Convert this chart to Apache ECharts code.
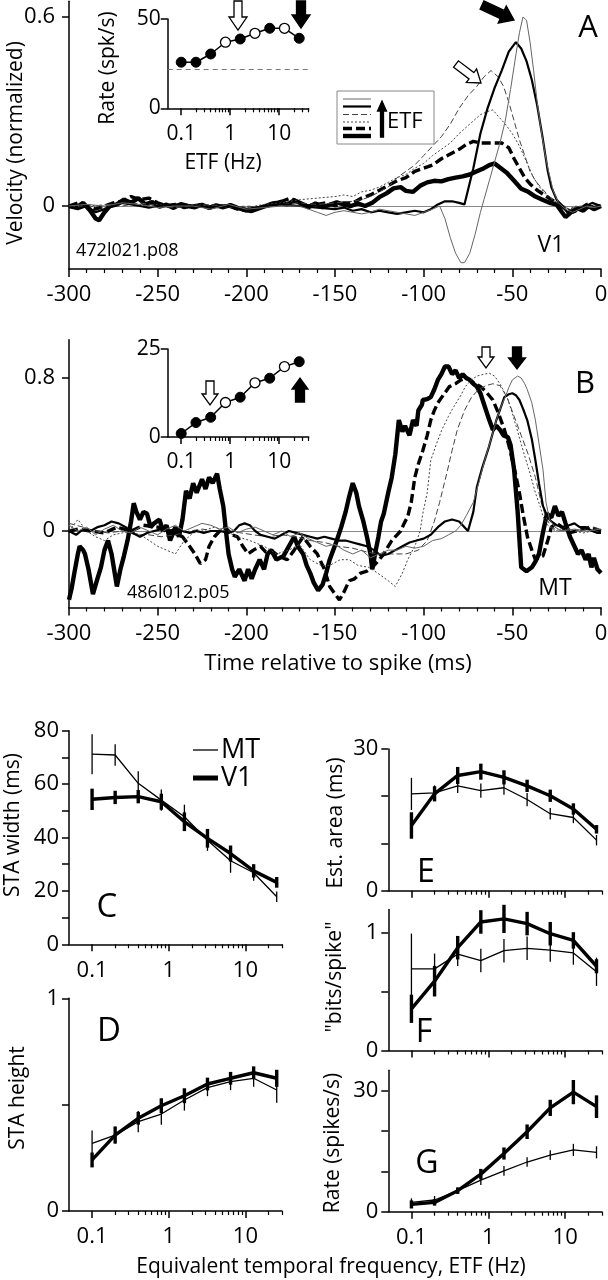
<!DOCTYPE html>
<html><head><meta charset="utf-8">
<script src="https://cdn.jsdelivr.net/npm/echarts@6/dist/echarts.min.js"></script>
<style>html,body{margin:0;padding:0;background:#fff}#c{width:608px;height:1280px}</style>
</head><body><div id="c"></div>
<script>
// ---------------- DATA ----------------
const ETF = [0.1, 0.2, 0.4, 0.8, 1.6, 3.2, 6.4, 12.8, 25.6];
const traceETF = [0.1, 0.2, 0.4, 1.6, 6.4, 25.6];
const timeTicks = [-300, -250, -200, -150, -100, -50, 0];
const decadeTicks = [0.1, 1, 10];
const minorLogTicks = [0.2,0.3,0.4,0.5,0.6,0.7,0.8,0.9,2,3,4,5,6,7,8,9,20,30,40];

// inset rates
const insetRateA = [25.8, 25.8, 30.4, 37.0, 38.8, 42.0, 44.8, 44.8, 39.2];
const insetBaseA = 21.8;
const insetRateB = [1.0, 4.1, 5.6, 9.8, 11.3, 15.4, 16.7, 20.0, 21.4];

// Panel A traces [time ms, normalized velocity]
const A_0p1 = [[-300,0],[-296,-0.005],[-292,0.01],[-288,-0.015],[-285,-0.04],[-283,-0.045],[-280,-0.02],[-277,0.0],[-273,0.005],[-269,0.02],[-265,0.01],[-261,0.025],[-257,0.005],[-253,0.012],[-249,-0.002],[-245,0.004],[-241,-0.006],[-237,0.006],[-233,0.0],[-229,-0.004],[-225,0.004],[-221,-0.006],[-217,0.002],[-213,-0.004],[-209,0.003],[-205,-0.006],[-201,-0.012],[-197,-0.016],[-193,-0.008],[-189,0.0],[-185,0.006],[-181,0.012],[-177,0.004],[-173,0.018],[-169,0.008],[-165,-0.004],[-161,0.008],[-157,-0.004],[-153,0.004],[-149,0.012],[-145,0.004],[-141,0.0],[-137,0.008],[-133,0.0],[-129,0.01],[-125,0.028],[-121,0.04],[-117,0.056],[-113,0.06],[-110,0.048],[-106,0.045],[-102,0.064],[-98,0.075],[-94,0.08],[-90,0.078],[-86,0.085],[-82,0.09],[-78,0.094],[-74,0.1],[-70,0.11],[-66,0.12],[-63,0.13],[-60,0.135],[-57,0.122],[-53,0.105],[-49,0.08],[-45,0.055],[-41,0.045],[-37,0.03],[-33,0.02],[-29,0.01],[-25,0.004],[-22,-0.02],[-20,-0.035],[-17,-0.02],[-13,-0.008],[-10,-0.015],[-7,0.0],[-4,-0.01],[0,0.0]];
const A_0p2 = [[-300,0.0],[-295,0.01],[-290,0.0],[-285,-0.01],[-280,0.0],[-275,0.01],[-270,0.015],[-265,0.03],[-260,0.02],[-255,0.025],[-250,0.01],[-245,0.0],[-240,0.005],[-235,-0.005],[-230,0.0],[-225,0.005],[-220,-0.005],[-215,0.0],[-210,0.0],[-205,-0.01],[-200,-0.015],[-195,-0.01],[-190,0.0],[-185,0.01],[-180,0.015],[-175,0.025],[-170,0.01],[-165,0.0],[-160,0.005],[-155,0.01],[-150,0.0],[-145,0.01],[-140,0.01],[-135,0.025],[-130,0.035],[-125,0.05],[-120,0.065],[-115,0.08],[-110,0.09],[-105,0.11],[-100,0.12],[-95,0.13],[-90,0.15],[-85,0.165],[-80,0.18],[-76,0.195],[-72,0.205],[-68,0.2],[-64,0.2],[-60,0.2],[-56,0.2],[-52,0.185],[-49,0.15],[-46,0.12],[-43,0.09],[-40,0.07],[-36,0.05],[-32,0.035],[-28,0.02],[-24,0.01],[-20,-0.01],[-16,-0.02],[-12,-0.01],[-8,0.005],[-4,-0.005],[0,0.0]];
const A_0p4 = [[-300,0.0],[-290,0.005],[-280,-0.005],[-270,0.01],[-260,0.0],[-250,0.005],[-240,0.0],[-230,0.005],[-220,0.0],[-210,0.0],[-200,-0.005],[-190,0.005],[-180,0.01],[-170,0.02],[-160,0.025],[-150,0.03],[-145,0.035],[-140,0.03],[-135,0.045],[-130,0.05],[-125,0.06],[-120,0.075],[-115,0.09],[-110,0.1],[-105,0.12],[-100,0.135],[-95,0.16],[-90,0.18],[-85,0.2],[-80,0.23],[-76,0.25],[-72,0.27],[-68,0.29],[-64,0.3],[-61,0.305],[-58,0.285],[-54,0.26],[-50,0.23],[-46,0.19],[-42,0.14],[-38,0.09],[-34,0.055],[-30,0.03],[-26,0.015],[-22,0.005],[-18,-0.01],[-14,0.0],[-10,-0.005],[-5,0.0],[0,0.0]];
const A_1p6 = [[-300,0.0],[-290,-0.005],[-280,0.005],[-270,0.0],[-260,0.01],[-250,0.0],[-240,-0.005],[-230,0.0],[-220,0.005],[-210,-0.005],[-200,0.0],[-190,-0.005],[-180,0.005],[-170,0.01],[-160,0.005],[-150,0.01],[-140,0.015],[-135,0.02],[-130,0.03],[-125,0.045],[-120,0.06],[-115,0.09],[-110,0.11],[-105,0.13],[-100,0.16],[-95,0.19],[-90,0.22],[-85,0.26],[-80,0.31],[-75,0.35],[-70,0.38],[-66,0.41],[-62,0.43],[-58,0.41],[-55,0.38],[-52,0.33],[-49,0.27],[-46,0.21],[-43,0.16],[-40,0.11],[-37,0.08],[-34,0.06],[-30,0.035],[-26,0.015],[-22,0.0],[-18,-0.01],[-12,0.0],[-6,-0.005],[0,0.0]];
const A_6p4 = [[-300,0.0],[-295,-0.01],[-290,0.0],[-285,-0.02],[-280,-0.01],[-275,0.0],[-270,0.01],[-265,0.005],[-260,0.0],[-255,-0.005],[-250,0.0],[-240,0.005],[-230,0.0],[-220,-0.005],[-210,0.0],[-200,-0.01],[-190,0.0],[-180,0.005],[-170,0.0],[-160,-0.005],[-150,-0.01],[-145,-0.005],[-140,-0.015],[-135,-0.01],[-130,-0.02],[-125,-0.015],[-120,-0.02],[-115,-0.025],[-110,-0.02],[-105,-0.015],[-100,-0.02],[-96,-0.01],[-92,0.005],[-88,0.015],[-84,0.015],[-80,0.01],[-77,0.005],[-76,0.0],[-72,0.12],[-68,0.23],[-64,0.31],[-60,0.375],[-56,0.43],[-52,0.49],[-48,0.52],[-45,0.5],[-42,0.46],[-39,0.4],[-36,0.32],[-33,0.22],[-30,0.11],[-28,0.06],[-25,0.02],[-22,0.0],[-19,-0.02],[-15,-0.01],[-10,-0.005],[-5,0.01],[0,0.0]];
const A_25p6 = [[-300,0.0],[-290,0.005],[-280,0.0],[-270,0.01],[-260,0.005],[-250,-0.005],[-240,0.0],[-230,0.0],[-220,-0.01],[-210,0.005],[-200,-0.01],[-190,-0.005],[-180,0.0],[-170,0.0],[-165,-0.01],[-160,-0.02],[-155,-0.03],[-150,-0.02],[-145,-0.015],[-140,-0.02],[-135,-0.025],[-130,-0.02],[-125,-0.01],[-120,-0.015],[-115,-0.02],[-110,-0.025],[-105,-0.03],[-100,-0.02],[-95,-0.01],[-91,0.0],[-88,-0.04],[-85,-0.1],[-82,-0.15],[-79,-0.18],[-77,-0.18],[-74,-0.15],[-71,-0.09],[-68,-0.02],[-66,0.02],[-63,0.08],[-60,0.14],[-57,0.2],[-54,0.27],[-51,0.37],[-48,0.48],[-46,0.55],[-44,0.6],[-42,0.59],[-40,0.52],[-38,0.43],[-36,0.33],[-34,0.25],[-32,0.18],[-30,0.12],[-27,0.05],[-24,0.01],[-20,-0.01],[-16,-0.02],[-12,-0.01],[-8,0.0],[-4,-0.005],[0,0.0]];

// Panel B traces
const B_0p1 = [[-300,-0.36],[-298.5,-0.3],[-297,-0.22],[-295,-0.12],[-294,-0.08],[-292,-0.1],[-291,-0.12],[-289,-0.2],[-286.5,-0.33],[-284,-0.25],[-282,-0.19],[-280,-0.1],[-278,-0.05],[-276,-0.12],[-273,-0.29],[-271,-0.2],[-269,-0.13],[-267,-0.05],[-265,0.05],[-263.5,0.145],[-262,0.1],[-260,0.06],[-258,0.1],[-256,0.09],[-254,0.02],[-252,0.04],[-249,0.06],[-247,0.0],[-245,0.03],[-243,-0.05],[-240,0.02],[-238,-0.03],[-236,0.06],[-234,0.21],[-232,0.17],[-230,0.25],[-228,0.2],[-225,0.27],[-223,0.22],[-221,0.28],[-219,0.25],[-216.5,0.3],[-215,0.22],[-213,0.13],[-211.5,0.0],[-210,-0.12],[-208,-0.2],[-206.5,-0.24],[-204,-0.2],[-201,-0.26],[-199,-0.2],[-197,-0.25],[-195,-0.2],[-192.5,-0.15],[-190,-0.2],[-188,-0.12],[-186,-0.1],[-183,-0.15],[-179,-0.13],[-176,-0.08],[-173,-0.03],[-171,-0.08],[-168,-0.12],[-166,-0.18],[-164,-0.22],[-162,-0.27],[-159.5,-0.31],[-157,-0.28],[-155,-0.22],[-153,-0.15],[-151,-0.1],[-149,-0.05],[-146.5,0.02],[-144,0.1],[-142,0.18],[-140,0.25],[-138,0.2],[-136.5,0.13],[-134,0.05],[-132,-0.03],[-130,-0.12],[-129,-0.2],[-127,-0.1],[-125.5,-0.03],[-124,0.05],[-122.5,0.09],[-120,0.2],[-118,0.28],[-116,0.4],[-114,0.58],[-112,0.52],[-110.5,0.55],[-108,0.5],[-106,0.58],[-104,0.55],[-103,0.63],[-101,0.66],[-100.5,0.685],[-98,0.69],[-96,0.7],[-94,0.74],[-92,0.79],[-90,0.82],[-88,0.86],[-86,0.86],[-84,0.82],[-82,0.84],[-80,0.8],[-78,0.82],[-76,0.8],[-74,0.79],[-72,0.77],[-70,0.755],[-68,0.72],[-65.5,0.65],[-63,0.58],[-61,0.53],[-59,0.55],[-57,0.53],[-55,0.5],[-52.5,0.49],[-51,0.45],[-49,0.32],[-47,0.1],[-45,-0.19],[-42,-0.21],[-39,-0.19],[-37,-0.16],[-35,-0.12],[-33,-0.02],[-30.5,0.09],[-28,0.07],[-26,0.13],[-24,0.08],[-22,0.1],[-20,0.04],[-17.5,-0.03],[-15,-0.08],[-13,-0.12],[-11,-0.1],[-8.7,-0.15],[-7,-0.12],[-5.4,-0.19],[-4,-0.14],[-2,-0.2],[0,-0.22]];
const B_0p2 = [[-300,0.0],[-295,0.01],[-288,0.0],[-280,-0.01],[-273,0.02],[-265,0.0],[-258,0.03],[-250,0.02],[-243,0.0],[-236,-0.03],[-232,-0.08],[-229,-0.12],[-226,-0.17],[-223,-0.15],[-221,-0.08],[-218,-0.03],[-215,0.0],[-212,0.02],[-208,-0.02],[-205,-0.03],[-202,-0.08],[-199,-0.12],[-196,-0.1],[-192,-0.08],[-189,-0.11],[-186,-0.1],[-182,-0.13],[-177,-0.15],[-173,-0.1],[-168,-0.03],[-164,-0.08],[-160,-0.12],[-156,-0.2],[-153,-0.29],[-150,-0.33],[-147.5,-0.36],[-145,-0.32],[-142,-0.26],[-139,-0.25],[-135.5,-0.22],[-132,-0.21],[-129,-0.19],[-125,-0.15],[-122.5,-0.12],[-120,-0.08],[-118,-0.05],[-115,-0.02],[-113,0.0],[-111,0.04],[-109,0.075],[-107,0.15],[-105,0.28],[-103,0.35],[-100.5,0.42],[-98,0.5],[-96,0.58],[-94,0.63],[-92,0.67],[-89,0.71],[-85.5,0.755],[-82,0.77],[-79,0.79],[-76,0.8],[-74,0.79],[-71,0.77],[-68,0.755],[-65,0.73],[-61,0.685],[-58,0.62],[-54.5,0.53],[-52,0.45],[-50,0.37],[-48,0.29],[-46,0.2],[-44,0.09],[-41.5,-0.03],[-39,-0.1],[-37,-0.15],[-35,-0.14],[-32.7,-0.13],[-30,-0.05],[-28,0.02],[-25,0.04],[-22,0.02],[-18,-0.01],[-14,0.0],[-10,0.01],[-6,0.02],[-3,0.01],[0,0.0]];
const B_0p4 = [[-300,0.0],[-295,0.06],[-290,0.0],[-285,-0.03],[-280,-0.05],[-275,-0.02],[-270,-0.01],[-265,0.0],[-258,-0.03],[-250,-0.08],[-245,-0.1],[-240,-0.12],[-235,-0.05],[-230,-0.01],[-225,0.0],[-218,0.02],[-212,0.0],[-205,-0.03],[-198,-0.05],[-190,-0.08],[-183,-0.12],[-176,-0.1],[-170,-0.07],[-164,-0.15],[-158,-0.18],[-153,-0.18],[-147,-0.15],[-142,-0.15],[-137,-0.18],[-131,-0.19],[-126,-0.22],[-120,-0.26],[-116,-0.29],[-112,-0.22],[-109,-0.15],[-105,-0.08],[-102,0.0],[-100.5,0.09],[-98,0.2],[-96,0.37],[-93,0.45],[-89.7,0.53],[-86,0.6],[-83,0.65],[-79,0.71],[-76.5,0.755],[-73,0.79],[-70,0.81],[-66,0.82],[-63,0.825],[-60,0.81],[-57,0.77],[-53,0.7],[-50,0.615],[-47,0.52],[-43.6,0.41],[-40,0.3],[-37,0.2],[-34,0.12],[-32.7,0.075],[-30,0.03],[-26,0.0],[-20,0.02],[-15,0.0],[-10,-0.01],[-5,0.0],[0,-0.01]];
const B_1p6 = [[-300,0.04],[-292,0.02],[-285,0.0],[-278,-0.01],[-270,0.0],[-262,-0.02],[-255,-0.02],[-248,-0.03],[-240,-0.02],[-232,0.0],[-225,0.01],[-218,0.0],[-210,0.0],[-203,-0.01],[-196,-0.02],[-188,-0.03],[-180,-0.02],[-172,-0.03],[-164,-0.05],[-156,-0.06],[-148,-0.08],[-140,-0.09],[-132,-0.11],[-125,-0.12],[-118,-0.12],[-110,-0.12],[-103,-0.1],[-98,-0.05],[-94,0.05],[-91,0.15],[-87,0.3],[-84,0.42],[-81,0.53],[-77,0.63],[-73,0.7],[-69,0.74],[-65,0.76],[-61,0.77],[-57,0.76],[-53,0.7],[-49,0.6],[-45,0.5],[-41,0.4],[-37,0.28],[-34,0.16],[-31,0.07],[-28,0.02],[-24,0.0],[-18,0.01],[-12,0.0],[-6,0.02],[0,0.01]];
const B_6p4 = [[-300,0.0],[-296,-0.02],[-292,0.01],[-288,0.0],[-284,0.02],[-280,0.03],[-276,0.05],[-272,0.04],[-268,0.02],[-264,-0.01],[-260,-0.03],[-256,-0.01],[-252,0.0],[-248,0.01],[-244,0.0],[-240,0.01],[-236,0.0],[-232,-0.01],[-228,0.0],[-224,-0.01],[-220,0.0],[-215,0.0],[-210,-0.01],[-207,0.0],[-204,0.03],[-201,0.04],[-198,0.03],[-195,0.0],[-192,-0.02],[-188,-0.03],[-184,-0.04],[-180,-0.02],[-176,0.0],[-172,-0.01],[-168,-0.02],[-164,-0.03],[-160,-0.04],[-156,-0.03],[-152,-0.04],[-148,-0.05],[-144,-0.05],[-140,-0.06],[-136,-0.07],[-132,-0.08],[-128,-0.1],[-124,-0.13],[-120,-0.12],[-116,-0.1],[-112,-0.08],[-108,-0.06],[-104,-0.05],[-100,-0.04],[-96,-0.02],[-92,0.02],[-88,0.05],[-84,0.06],[-80,0.05],[-77,0.02],[-75,0.0],[-72,0.1],[-70,0.23],[-67,0.33],[-63.2,0.44],[-59,0.58],[-56,0.66],[-54.5,0.7],[-52,0.715],[-50,0.72],[-48,0.71],[-46,0.685],[-44,0.64],[-41.6,0.58],[-39,0.48],[-37,0.37],[-35,0.25],[-32.7,0.13],[-30,0.07],[-28,0.05],[-25,0.03],[-21.8,0.02],[-18,0.03],[-15,0.04],[-12,0.02],[-8.7,0.02],[-5,0.0],[-2,-0.01],[0,-0.01]];
const B_25p6 = [[-300,0.03],[-295,0.0],[-290,0.02],[-285,-0.02],[-280,0.01],[-275,0.03],[-270,0.0],[-265,-0.01],[-260,0.02],[-255,0.0],[-250,-0.02],[-245,0.01],[-240,0.03],[-235,0.0],[-230,0.02],[-225,0.04],[-220,0.03],[-215,0.01],[-210,0.02],[-205,-0.01],[-200,0.01],[-195,0.02],[-190,0.0],[-185,-0.02],[-180,0.0],[-175,-0.03],[-170,-0.01],[-165,-0.04],[-160,-0.06],[-155,-0.08],[-150,-0.07],[-145,-0.1],[-140,-0.12],[-135,-0.1],[-130,-0.14],[-125,-0.12],[-120,-0.1],[-115,-0.1],[-110,-0.08],[-105,-0.09],[-100,-0.08],[-95,-0.05],[-90,-0.04],[-86,-0.02],[-82,0.0],[-79,0.03],[-76,0.08],[-72,0.15],[-69,0.25],[-65.6,0.37],[-62,0.48],[-59,0.58],[-56,0.66],[-54,0.7],[-52,0.75],[-50,0.79],[-47,0.81],[-45,0.8],[-43,0.77],[-41.6,0.74],[-39,0.67],[-37,0.58],[-35,0.46],[-32.7,0.32],[-31,0.15],[-29,0.06],[-26,0.02],[-22,0.0],[-15,0.01],[-8,0.0],[0,0.01]];

// Bottom panels (mean, error half-width)
const widthMT = [71.2, 70.9, 60.3, 54.0, 47.8, 39.0, 31.3, 26.8, 17.8];
const widthMTerr = [7.5, 4.0, 4.5, 4.0, 4.5, 4.0, 4.5, 3.0, 2.0];
const widthV1 = [54.3, 55.0, 55.3, 53.4, 45.9, 39.7, 34.0, 27.5, 23.2];
const widthV1err = [4.0, 2.5, 2.5, 3.0, 3.5, 3.5, 3.0, 2.5, 2.0];
const heightMT = [0.318, 0.357, 0.42, 0.456, 0.522, 0.58, 0.608, 0.624, 0.569];
const heightMTerr = [0.06, 0.04, 0.05, 0.05, 0.05, 0.04, 0.04, 0.04, 0.06];
const heightV1 = [0.24, 0.357, 0.436, 0.495, 0.542, 0.597, 0.624, 0.65, 0.624];
const heightV1err = [0.035, 0.04, 0.03, 0.035, 0.035, 0.03, 0.03, 0.03, 0.04];
const areaMT = [20.5, 20.7, 22.2, 21.2, 21.8, 19.3, 16.3, 15.5, 10.7];
const areaMTerr = [3.4, 1.6, 1.5, 1.5, 1.5, 1.4, 1.2, 1.2, 1.1];
const areaV1 = [13.8, 20.5, 24.4, 25.2, 24.0, 22.2, 20.1, 17.3, 13.0];
const areaV1err = [2.8, 1.6, 1.8, 1.7, 1.5, 1.3, 1.3, 1.2, 0.9];
const bitsMT = [0.695, 0.695, 0.82, 0.765, 0.85, 0.87, 0.855, 0.83, 0.67];
const bitsMTerr = [0.3, 0.13, 0.1, 0.1, 0.1, 0.1, 0.1, 0.1, 0.12];
const bitsV1 = [0.355, 0.59, 0.875, 1.094, 1.12, 1.08, 0.994, 0.937, 0.717];
const bitsV1err = [0.12, 0.13, 0.1, 0.1, 0.12, 0.1, 0.1, 0.07, 0.06];
const rateMT = [2.3, 2.9, 5.2, 7.8, 10.1, 12.3, 14.0, 15.3, 14.7];
const rateMTerr = [1.0, 1.0, 0.8, 1.2, 1.2, 1.2, 1.2, 1.5, 1.5];
const rateV1 = [1.8, 2.3, 5.2, 9.3, 14.4, 19.8, 25.7, 29.6, 26.0];
const rateV1err = [1.0, 0.8, 0.8, 1.3, 1.5, 1.8, 2.0, 3.0, 2.8];

// ---------------- CHART ----------------
const L = Math.log10;
const FONT = '"Open Sans", "Noto Sans", sans-serif';
const BLK = '#000';
const TICKFS = 22;
const chart = echarts.init(document.getElementById('c'), null, {renderer: 'canvas'});

const grids = [
  {left: 69, top: 1.25, width: 532, height: 267.75},     // 0 A
  {left: 167.7, top: 19, width: 141, height: 89.3},      // 1 A inset
  {left: 69, top: 339.75, width: 532, height: 267.75},   // 2 B
  {left: 167.7, top: 349, width: 141, height: 88},       // 3 B inset
  {left: 69, top: 730.7, width: 213, height: 213.6},     // 4 C
  {left: 69, top: 998.3, width: 213, height: 212.7},     // 5 D
  {left: 388.3, top: 749, width: 213.5, height: 141.7},  // 6 E
  {left: 388.3, top: 909.5, width: 213.5, height: 141},  // 7 F
  {left: 388.3, top: 1070.3, width: 213.5, height: 141.4}// 8 G
].map(g => Object.assign({containLabel: false, outerBoundsMode: 'none', show: false}, g));

const xAxes = [], yAxes = [];
const lineW = {color: BLK, width: 1.5};
function timeX(gi) {
  xAxes.push({type: 'value', gridIndex: gi, position: 'bottom', min: -300, max: 0, interval: 50,
    axisLine: {onZero: false, lineStyle: lineW},
    axisTick: {length: 8, lineStyle: lineW},
    minorTick: {show: true, splitNumber: 5, length: 4, lineStyle: {color: BLK, width: 1.2}},
    axisLabel: {fontSize: TICKFS, color: BLK, margin: 15, fontFamily: FONT},
    splitLine: {show: false}, minorSplitLine: {show: false}});
  return xAxes.length - 1;
}
function logX(gi, lo, hi, showLabel, fs) {
  const mn = L(lo), mx = L(hi);
  const maj = decadeTicks.map(L).filter(v => v >= mn - 1e-9 && v <= mx + 1e-9);
  const mnr = minorLogTicks.map(L).filter(v => v >= mn - 1e-9 && v <= mx + 1e-9);
  xAxes.push({type: 'value', gridIndex: gi, position: 'bottom', min: mn, max: mx,
    axisLine: {onZero: false, lineStyle: lineW},
    axisTick: {customValues: maj, length: 7, lineStyle: lineW},
    axisLabel: {show: showLabel, customValues: maj, formatter: v => String(+Math.pow(10, v).toPrecision(2)),
      fontSize: fs || TICKFS, margin: 15, color: BLK, fontFamily: FONT, hideOverlap: false},
    splitLine: {show: false}});
  const idx = xAxes.length - 1;
  xAxes.push({type: 'value', gridIndex: gi, position: 'bottom', offset: 0, min: mn, max: mx,
    axisLine: {show: false, onZero: false},
    axisTick: {customValues: mnr, length: 4, lineStyle: {color: BLK, width: 1.2}},
    axisLabel: {show: false}, splitLine: {show: false}});
  return idx;
}
function valY(gi, mn, mx, ticks, labels, margin, fs) {
  yAxes.push({type: 'value', gridIndex: gi, position: 'left', min: mn, max: mx,
    axisLine: {onZero: false, lineStyle: lineW},
    axisTick: {customValues: ticks, length: 7, lineStyle: lineW},
    axisLabel: {customValues: labels, fontSize: fs || TICKFS, color: BLK, margin: margin, fontFamily: FONT,
      padding: [0, 0, 9, 0], formatter: v => String(+v.toPrecision(3))},
    splitLine: {show: false}});
  return yAxes.length - 1;
}

const xA = timeX(0), yA = valY(0, -0.2, 0.65, [0, 0.6], [0, 0.6], 14);
const xAi = logX(1, 0.053, 40, true, 21), yAi = valY(1, 0, 50, [0, 50], [0, 50], 7, 21);
const xB = timeX(2), yB = valY(2, -0.4, 1.0, [0, 0.8], [0, 0.8], 14);
const xBi = logX(3, 0.053, 40, true, 21), yBi = valY(3, 0, 25, [0, 25], [0, 25], 7, 21);
const xC = logX(4, 0.05, 30, true), yC = valY(4, 0, 80, [0,10,20,30,40,50,60,70,80], [0,20,40,60,80], 10);
const xD = logX(5, 0.05, 30, true), yD = valY(5, 0, 1, [0, 0.5, 1], [0, 1], 10);
const xE = logX(6, 0.05, 30, false), yE = valY(6, 0, 30, [0,10,20,30], [0,30], 10);
const xF = logX(7, 0.05, 30, false), yF = valY(7, 0, 1.2, [0,0.5,1], [0,1], 10);
const xG = logX(8, 0.05, 30, true), yG = valY(8, 0, 35, [0,10,20,30], [0,30], 10);

const traceStyles = [
  {width: 4.4, color: BLK, type: 'solid'},
  {width: 3.4, color: BLK, type: [9, 4]},
  {width: 1, color: '#444', type: [2, 2]},
  {width: 1, color: '#444', type: [6, 3]},
  {width: 2.2, color: BLK, type: 'solid'},
  {width: 1, color: '#666', type: 'solid'}
];
const series = [];
function traces(xi, yi, list) {
  list.forEach((d, i) => {
    const s = {type: 'line', xAxisIndex: xi, yAxisIndex: yi, data: d, symbol: 'none',
      lineStyle: traceStyles[i], z: 2 + i, silent: true, clip: true};
    if (i === 0) s.markLine = {silent: true, symbol: 'none', label: {show: false},
      lineStyle: {color: '#888', width: 1, type: 'solid'}, data: [{yAxis: 0}], z: 1};
    series.push(s);
  });
}
traces(xA, yA, [A_0p1, A_0p2, A_0p4, A_1p6, A_6p4, A_25p6]);
traces(xB, yB, [B_0p1, B_0p2, B_0p4, B_1p6, B_6p4, B_25p6]);

function inset(xi, yi, rates, base) {
  const s = {type: 'line', xAxisIndex: xi, yAxisIndex: yi, symbol: 'circle', symbolSize: 10,
    lineStyle: {color: BLK, width: 1.5}, itemStyle: {color: BLK}, z: 5, silent: true,
    data: ETF.map((f, i) => ({value: [L(f), rates[i]],
      itemStyle: traceETF.includes(f) ? {color: BLK, borderColor: BLK, borderWidth: 1}
                                      : {color: '#fff', borderColor: BLK, borderWidth: 1.3}}))};
  if (base !== undefined) s.markLine = {silent: true, symbol: 'none', label: {show: false},
    lineStyle: {color: '#777', width: 1, type: [5, 4]}, data: [{yAxis: base}]};
  series.push(s);
}
inset(xAi, yAi, insetRateA, insetBaseA);
inset(xBi, yBi, insetRateB);

function errBars(xi, yi, vals, errs, w) {
  series.push({type: 'custom', xAxisIndex: xi, yAxisIndex: yi, silent: true, z: 4, clip: false,
    data: ETF.map((f, i) => [L(f), vals[i] - errs[i], vals[i] + errs[i]]),
    encode: {x: 0, y: [1, 2]},
    renderItem: (params, api) => {
      const p1 = api.coord([api.value(0), api.value(1)]);
      const p2 = api.coord([api.value(0), api.value(2)]);
      return {type: 'line', shape: {x1: p1[0], y1: p1[1], x2: p2[0], y2: p2[1]},
        style: {stroke: BLK, lineWidth: w}};
    }});
}
function pair(xi, yi, mt, mtErr, v1, v1Err) {
  series.push({type: 'line', xAxisIndex: xi, yAxisIndex: yi, symbol: 'none', silent: true, z: 3,
    lineStyle: {color: BLK, width: 1.3}, data: ETF.map((f, i) => [L(f), mt[i]])});
  series.push({type: 'line', xAxisIndex: xi, yAxisIndex: yi, symbol: 'none', silent: true, z: 3,
    lineStyle: {color: BLK, width: 3.4}, data: ETF.map((f, i) => [L(f), v1[i]])});
  errBars(xi, yi, mt, mtErr, 1.3);
  errBars(xi, yi, v1, v1Err, 3.4);
}
pair(xC, yC, widthMT, widthMTerr, widthV1, widthV1err);
pair(xD, yD, heightMT, heightMTerr, heightV1, heightV1err);
pair(xE, yE, areaMT, areaMTerr, areaV1, areaV1err);
pair(xF, yF, bitsMT, bitsMTerr, bitsV1, bitsV1err);
pair(xG, yG, rateMT, rateMTerr, rateV1, rateV1err);

// ---------- annotations ----------
const gfx = [];
function txt(x, y, text, size, o) {
  o = o || {};
  gfx.push({type: 'text', x: x, y: y, rotation: o.rot ? Math.PI / 2 : 0, z: 100, silent: true,
    style: {text: text, fontSize: size, fontFamily: FONT, fill: BLK,
      align: o.align || 'center', verticalAlign: 'middle'}});
}
function seg(x1, y1, x2, y2, w, color, dash) {
  gfx.push({type: 'line', z: 100, silent: true, shape: {x1, y1, x2, y2},
    style: {stroke: color || BLK, lineWidth: w, lineDash: dash || null}});
}
function arrow(tx, ty, hx, hy, shaft, headW, headL, filled) {
  const dx = hx - tx, dy = hy - ty, len = Math.hypot(dx, dy), ux = dx / len, uy = dy / len, nx = -uy, ny = ux;
  const bx = hx - ux * headL, by = hy - uy * headL;
  const p = [[tx + nx * shaft / 2, ty + ny * shaft / 2], [bx + nx * shaft / 2, by + ny * shaft / 2],
    [bx + nx * headW / 2, by + ny * headW / 2], [hx, hy], [bx - nx * headW / 2, by - ny * headW / 2],
    [bx - nx * shaft / 2, by - ny * shaft / 2], [tx - nx * shaft / 2, ty - ny * shaft / 2]];
  gfx.push({type: 'polygon', z: 100, silent: true, shape: {points: p},
    style: {fill: filled ? BLK : '#fff', stroke: BLK, lineWidth: 1.3, lineJoin: 'miter'}});
}

// Panel A
txt(16, 143, 'Velocity (normalized)', 21, {rot: true});
txt(108, 68, 'Rate (spk/s)', 21, {rot: true});
txt(223, 163, 'ETF (Hz)', 21);
txt(76, 251, '472l021.p08', 18, {align: 'left'});
txt(551, 245, 'V1', 23);
txt(588, 28, 'A', 31);
arrow(238, 1, 238, 30, 8, 18, 13, false);
arrow(301, 1, 301, 28, 9, 18, 13, true);
arrow(456, 64, 481, 83, 8, 17, 12, false);
arrow(482, 5, 514, 20, 9, 19, 13, true);
// legend box A
gfx.push({type: 'rect', z: 99, silent: true, shape: {x: 337, y: 91, width: 97, height: 53},
  style: {fill: '#fff', stroke: '#888', lineWidth: 1}});
seg(343, 99, 371, 99, 1, '#666');
seg(343, 106.5, 371, 106.5, 2.2, BLK);
seg(343, 114.5, 371, 114.5, 1, '#444', [6, 3]);
seg(343, 122, 371, 122, 1, '#444', [2, 2]);
seg(343, 128.5, 371, 128.5, 3.4, BLK, [9, 4]);
seg(343, 136, 371, 136, 4.4, BLK);
arrow(382, 137, 382, 101, 3, 9, 10, true);
txt(387, 122, 'ETF', 22, {align: 'left'});

// Panel B
txt(585, 384, 'B', 31);
txt(127, 593, '486l012.p05', 18, {align: 'left'});
txt(555, 588, 'MT', 23);
txt(338, 664, 'Time relative to spike (ms)', 22);
arrow(486, 347, 486, 368, 8, 16, 11, false);
arrow(517, 347, 517, 369, 9, 17, 11, true);
arrow(210, 381, 210, 405, 8, 16, 11, false);
arrow(300, 402, 300, 378, 9, 16, 11, true);

// Panels C-G
txt(13, 825, 'STA width (ms)', 21, {rot: true});
txt(107, 908, 'C', 33);
seg(193, 750, 218, 750, 1.3, BLK);
seg(193, 778, 218, 778, 5, BLK);
txt(221, 750, 'MT', 27, {align: 'left'});
txt(221, 778, 'V1', 27, {align: 'left'});
txt(18, 1098, 'STA height', 21, {rot: true});
txt(109, 1032, 'D', 33);
txt(336, 823, 'Est. area (ms)', 21, {rot: true});
txt(426, 873, 'E', 32);
txt(335, 977, '"bits/spike"', 21, {rot: true});
txt(424, 1033, 'F', 32);
txt(333, 1143, 'Rate (spikes/s)', 21, {rot: true});
txt(427, 1164, 'G', 32);
txt(331, 1267, 'Equivalent temporal frequency, ETF (Hz)', 21);

chart.setOption({
  animation: false,
  backgroundColor: '#fff',
  textStyle: {fontFamily: FONT},
  grid: grids, xAxis: xAxes, yAxis: yAxes, series: series, graphic: gfx
});
</script></body></html>
